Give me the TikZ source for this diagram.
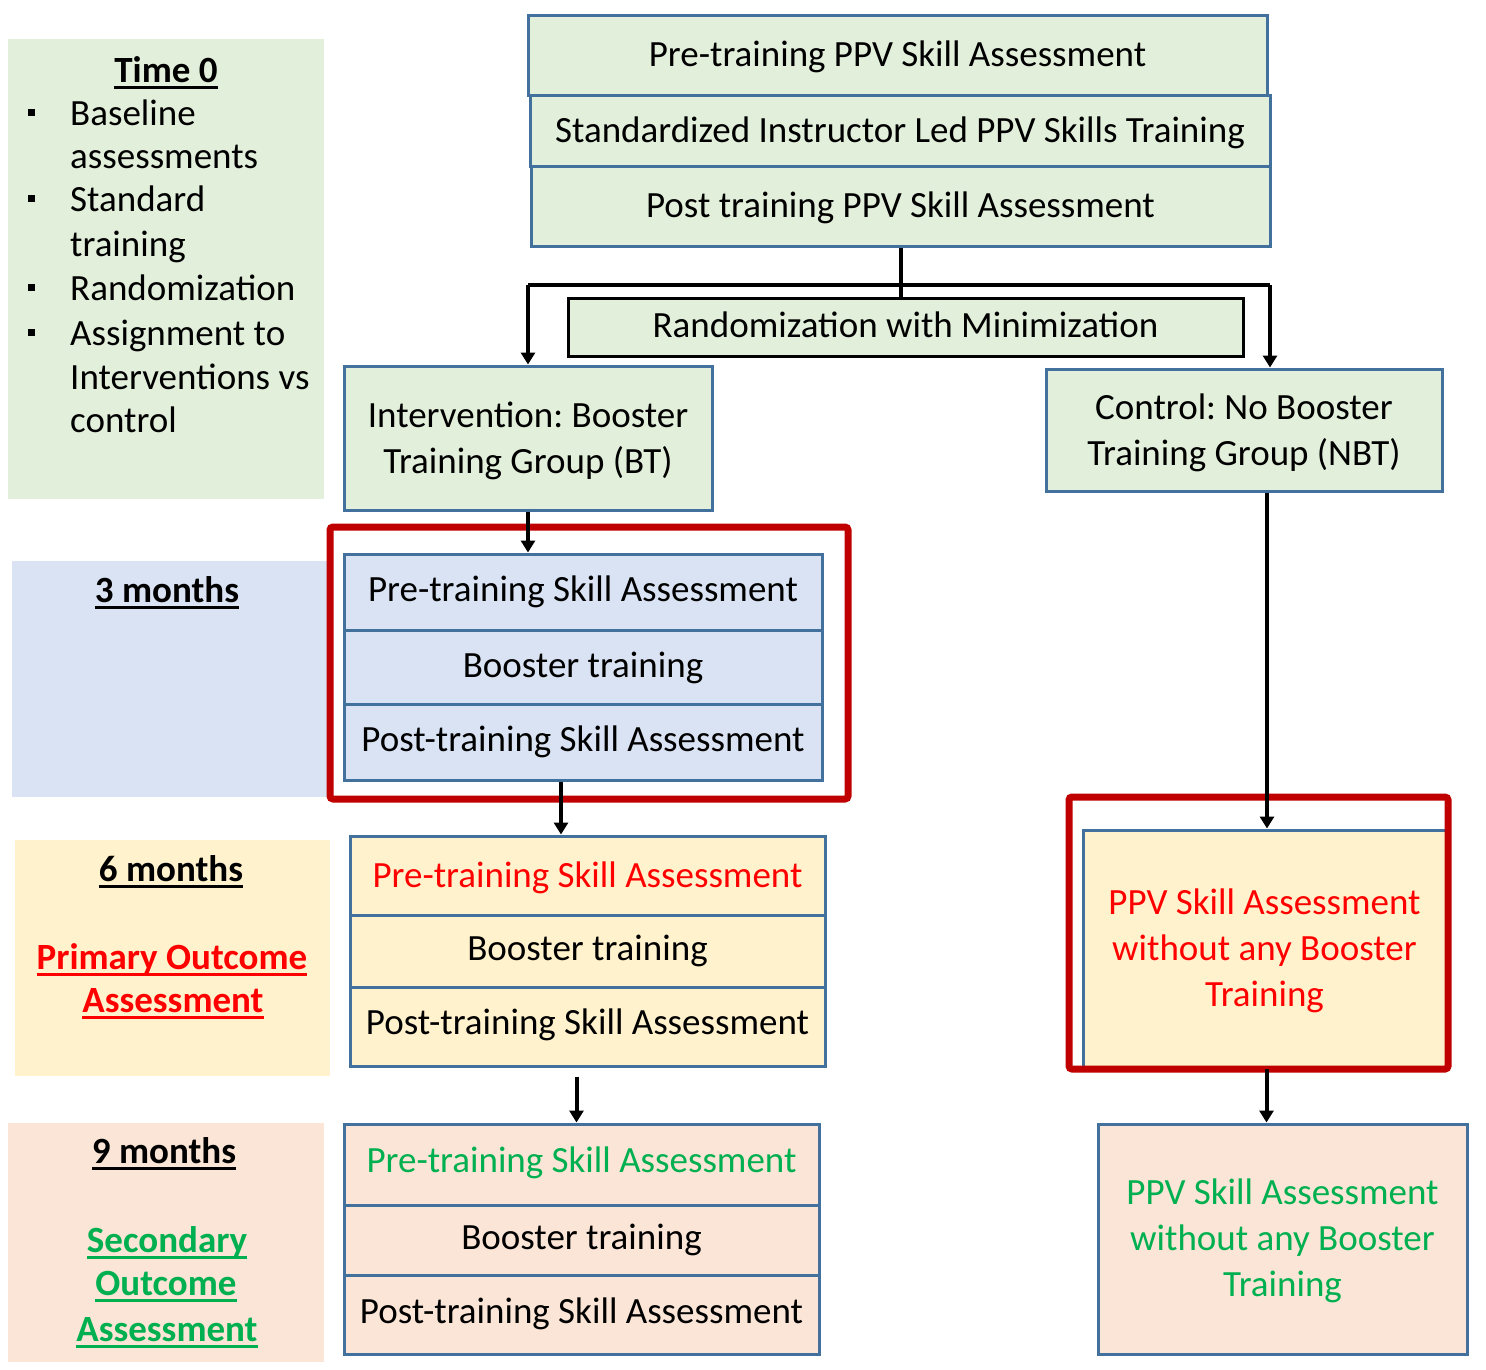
\documentclass[tikz,border=0pt]{standalone}
\usepackage{fontspec}
\setmainfont{Carlito}
\usetikzlibrary{arrows.meta,fit,calc}
\definecolor{gfill}{HTML}{E2EFDA}
\definecolor{bfill}{HTML}{DAE3F3}
\definecolor{yfill}{HTML}{FFF2CC}
\definecolor{pfill}{HTML}{FBE5D6}
\definecolor{bord}{HTML}{41719C}
\definecolor{redbox}{HTML}{C00000}
\definecolor{gtext}{HTML}{00B050}
\definecolor{rtext}{HTML}{FF0000}
\newcommand\myul[1]{\setbox0=\hbox{#1}\rlap{\rule[-7pt]{\wd0}{3pt}}\box0}
\frenchspacing
\begin{document}
\begin{tikzpicture}[x=1pt,y=-1pt, font=\fontsize{37}{46}\selectfont,
 panel/.style={fill=#1, draw=none, inner sep=0pt},
 box/.style={fill=#1, draw=bord, line width=3pt, inner sep=0pt},
 lbl/.style={inner sep=0pt, text height=24pt, text depth=0pt},
 bul/.style={fill=black, inner sep=0pt, minimum size=7pt},
 multi/.style={align=center, inner sep=0pt},
 arr/.style={line width=4pt, -{Triangle[width=14pt,length=12pt]}},
 conn/.style={line width=4pt},
 hlbox/.style={draw=redbox, line width=7pt, rounded corners=3pt, inner sep=0pt}]
\useasboundingbox (0,0) rectangle (1486,1369);
\fill[white] (0,0) rectangle (1486,1369);

% left panels
\node[panel=gfill, fit={(8,39) (324,499)}] (p0) {};
\node[panel=bfill, fit={(12,561) (330,797)}] (p3) {};
\node[panel=yfill, fit={(15,840) (330,1076)}] (p6) {};
\node[panel=pfill, fit={(8,1123) (324,1362)}] (p9) {};

\node[lbl] (t0) at (166,70) {\bfseries\myul{Time 0}};
\node[bul] (d1) at (31,112) {};
\node[bul] (d2) at (31,198) {};
\node[bul] (d3) at (31,287) {};
\node[bul] (d4) at (31,332) {};
\node[lbl, anchor=west] (l1) at (70,113) {Baseline};
\node[lbl, anchor=west] (l2) at (70,156) {assessments};
\node[lbl, anchor=west] (l3) at (70,199) {Standard};
\node[lbl, anchor=west] (l4) at (70,244) {training};
\node[lbl, anchor=west] (l5) at (70,288) {Randomization};
\node[lbl, anchor=west] (l6) at (70,333) {Assignment to};
\node[lbl, anchor=west] (l7) at (70,377) {Interventions vs};
\node[lbl, anchor=west] (l8) at (70,420) {control};

\node[lbl] (t3) at (167,590) {\bfseries\myul{3 months}};
\node[lbl] (t6) at (171,869) {\bfseries\myul{6 months}};
\node[lbl, text=rtext] (po1) at (172,957) {\bfseries\myul{Primary Outcome}};
\node[lbl, text=rtext] (po2) at (173,1000) {\bfseries\myul{Assessment}};
\node[lbl] (t9) at (164,1151) {\bfseries\myul{9 months}};
\node[lbl, text=gtext] (so1) at (167,1240) {\bfseries\myul{Secondary}};
\node[lbl, text=gtext] (so2) at (166,1283) {\bfseries\myul{Outcome}};
\node[lbl, text=gtext] (so3) at (167,1329) {\bfseries\myul{Assessment}};

% top stack
\node[box=gfill, fit={(528,15) (1267,95)}] (s1) {};
\node[box=gfill, fit={(530,95) (1270,166)}] (s2) {};
\node[box=gfill, fit={(531,166) (1270,246)}] (s3) {};
\node[lbl] (s1t) at ([yshift=1pt]s1.center) {Pre-training PPV Skill Assessment};
\node[lbl] (s2t) at (s2.center) {Standardized Instructor Led PPV Skills Training};
\node[lbl] (s3t) at ([yshift=1pt]s3.center) {Post training PPV Skill Assessment};

\node[fill=gfill, draw=black, line width=3pt, inner sep=0pt, fit={(568,298) (1243,356)}] (rand) {};
\node[lbl] (randt) at ([yshift=2pt]rand.center) {Randomization with Minimization};

\node[box=gfill, fit={(344,366) (712,510)}] (int) {};
\node[multi] (intt) at ([yshift=-3pt]int.center) {Intervention: Booster\\Training Group (BT)};
\node[box=gfill, fit={(1046,369) (1442,491)}] (ctl) {};
\node[multi] (ctlt) at ([yshift=-3pt]ctl.center) {Control: No Booster\\Training Group (NBT)};

% 3 months stack
\node[box=bfill, fit={(344,554) (822,630)}] (m3a) {};
\node[box=bfill, fit={(344,630) (822,704)}] (m3b) {};
\node[box=bfill, fit={(344,704) (822,780)}] (m3c) {};
\node[lbl] (m3at) at ([yshift=3pt]m3a.center) {Pre-training Skill Assessment};
\node[lbl] (m3bt) at ([yshift=2pt]m3b.center) {Booster training};
\node[lbl] (m3ct) at ([yshift=3pt]m3c.center) {Post-training Skill Assessment};

% 6 months stack
\node[box=yfill, fit={(350,836) (825,915)}] (m6a) {};
\node[box=yfill, fit={(350,915) (825,987)}] (m6b) {};
\node[box=yfill, fit={(350,987) (825,1066)}] (m6c) {};
\node[lbl, text=rtext] (m6at) at (m6a.center) {Pre-training Skill Assessment};
\node[lbl] (m6bt) at ([yshift=3pt]m6b.center) {Booster training};
\node[lbl] (m6ct) at ([yshift=4pt]m6c.center) {Post-training Skill Assessment};

% 9 months stack
\node[box=pfill, fit={(344,1124) (819,1205)}] (m9a) {};
\node[box=pfill, fit={(344,1205) (819,1275)}] (m9b) {};
\node[box=pfill, fit={(344,1275) (819,1354)}] (m9c) {};
\node[lbl, text=gtext] (m9at) at ([yshift=4pt]m9a.center) {Pre-training Skill Assessment};
\node[lbl] (m9bt) at ([yshift=3pt]m9b.center) {Booster training};
\node[lbl] (m9ct) at ([yshift=3pt]m9c.center) {Post-training Skill Assessment};

% right column
\node[box=yfill, fit={(1083,830) (1446,1067)}] (ppv) {};
\node[multi, text=rtext] (ppvt) at ([yshift=-2pt]ppv.center) {PPV Skill Assessment\\without any Booster\\Training};
\node[box=pfill, fit={(1098,1124) (1467,1354)}] (gr) {};
\node[multi, text=gtext] (grt) at ([yshift=-2pt]gr.center) {PPV Skill Assessment\\without any Booster\\Training};

% highlight frames
\node[hlbox, fit={(330,527) (848,799)}] (r1) {};
\node[hlbox, fit={(1069,797) (1448,1069)}] (r2) {};

% connectors
\coordinate (hl) at (528,285);
\coordinate (hr) at (1270,285);
\draw[conn] (hl) -- (hr);
\draw[conn] (s3.south) -- (s3.south |- rand.north);
\draw[arr] (hl) -- (hl |- int.north);
\draw[arr] (hr) -- (hr |- ctl.north);
\draw[arr] (int.south) -- (int.south |- m3a.north);
\draw[arr] ([xshift=-22pt]m3c.south) -- ([xshift=-22pt]m3c.south |- m6a.north);
\draw[arr] ([xshift=-11pt,yshift=-9pt]m6c.south) -- ([xshift=-11pt]m6c.south |- m9a.north);
\draw[arr] ([xshift=23pt]ctl.south) -- ([xshift=23pt]ctl.south |- ppv.north);
\draw[arr] ([xshift=2pt]ppv.south) -- ([xshift=2pt]ppv.south |- gr.north);
\end{tikzpicture}
\end{document}
